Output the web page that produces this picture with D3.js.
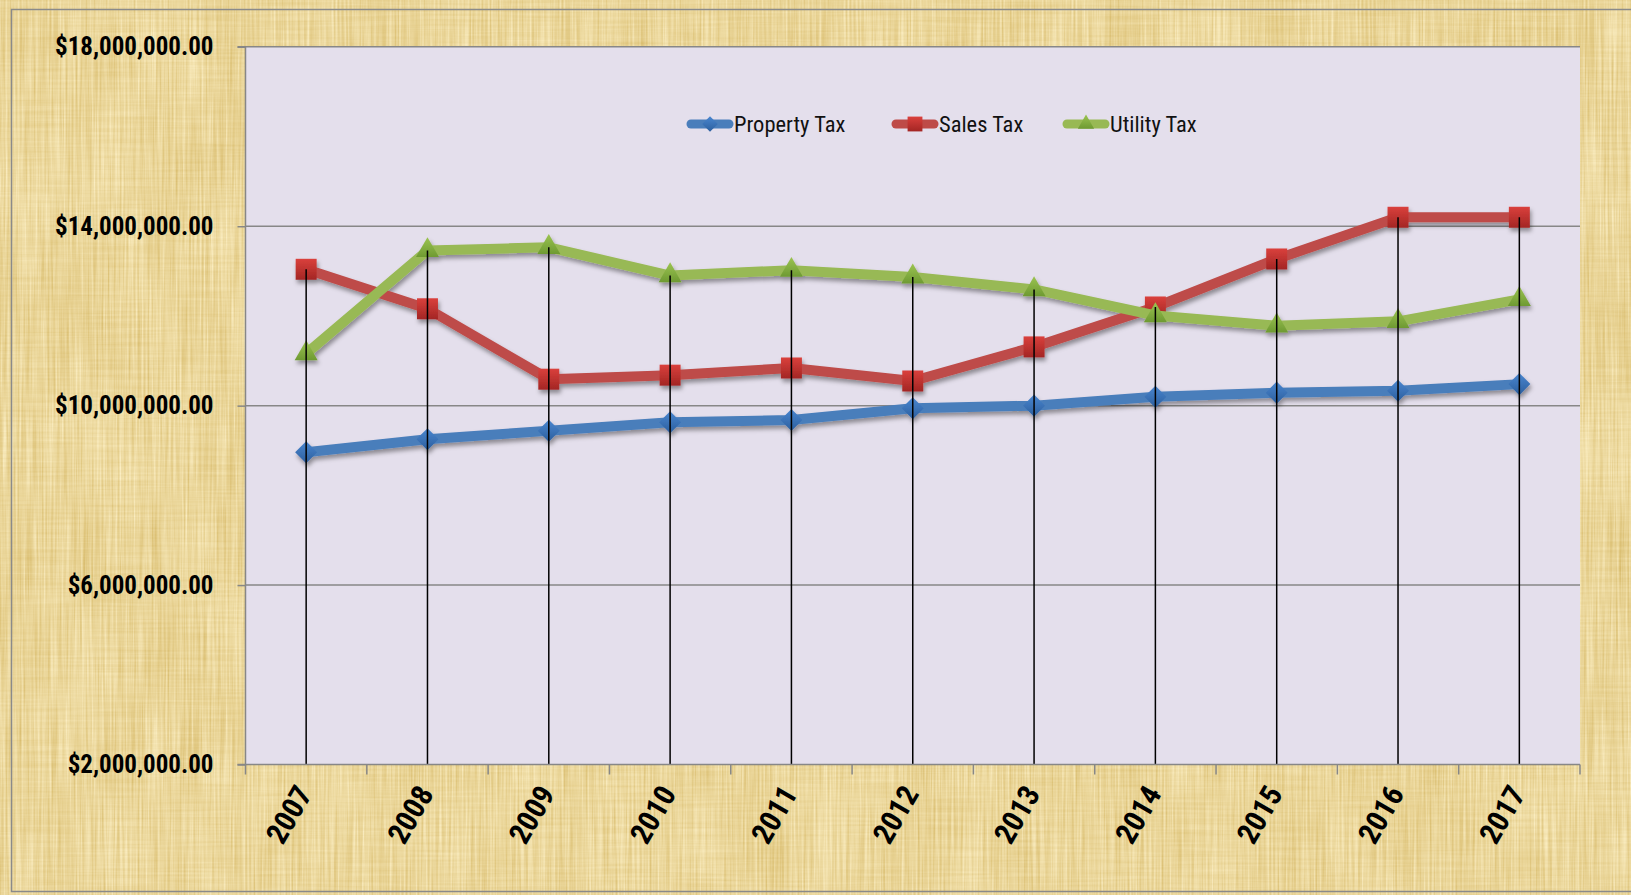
<!DOCTYPE html>
<html>
<head>
<meta charset="utf-8">
<script src="https://cdn.jsdelivr.net/npm/d3@7"></script>
<style>
  html, body { margin: 0; padding: 0; background: #ffffff; }
  svg { display: block; }
</style>
</head>
<body>
<svg id="chart" width="1631" height="895"></svg>
<script>
// ---- data ----
const years = ["2007","2008","2009","2010","2011","2012","2013","2014","2015","2016","2017"];
const propertyTax = [8960000, 9250000, 9440000, 9630000, 9680000, 9940000, 10000000, 10200000, 10290000, 10330000, 10480000];
const salesTax    = [13040000, 12160000, 10590000, 10680000, 10840000, 10550000, 11310000, 12200000, 13270000, 14200000, 14200000];
const utilityTax  = [11160000, 13460000, 13530000, 12900000, 13020000, 12870000, 12590000, 12010000, 11780000, 11880000, 12370000];
const seriesNames = ["Property Tax", "Sales Tax", "Utility Tax"];
const yTickValues = [2000000, 6000000, 10000000, 14000000, 18000000];

// ---- layout ----
const W = 1631, H = 895;
const chartBox = { x: 11.5, y: 9.5, w: 1640, h: 882 };
const plot = { left: 245.5, right: 1580, top: 46.8, bottom: 764.5 };
const FONT = "'Liberation Sans Narrow', 'Arial Narrow', 'Roboto Condensed', 'Liberation Sans', sans-serif";

const svg = d3.select("#chart");
const defs = svg.append("defs");

// parchment texture
const pf = defs.append("filter").attr("id", "parch")
  .attr("filterUnits", "userSpaceOnUse")
  .attr("x", 0).attr("y", 0).attr("width", W).attr("height", H)
  .attr("color-interpolation-filters", "sRGB");
const grey = "1 0 0 0 0  1 0 0 0 0  1 0 0 0 0  0 0 0 0 1";
pf.append("feTurbulence").attr("type", "fractalNoise").attr("baseFrequency", "0.5 0.01").attr("numOctaves", 3).attr("seed", 4).attr("result", "t1");
pf.append("feColorMatrix").attr("in", "t1").attr("type", "matrix").attr("values", grey).attr("result", "n1");
pf.append("feTurbulence").attr("type", "fractalNoise").attr("baseFrequency", "0.012 0.4").attr("numOctaves", 2).attr("seed", 9).attr("result", "t2");
pf.append("feColorMatrix").attr("in", "t2").attr("type", "matrix").attr("values", grey).attr("result", "n2");
pf.append("feTurbulence").attr("type", "fractalNoise").attr("baseFrequency", "0.02 0.008").attr("numOctaves", 2).attr("seed", 2).attr("result", "t3");
pf.append("feColorMatrix").attr("in", "t3").attr("type", "matrix").attr("values", grey).attr("result", "n3");
pf.append("feComposite").attr("in", "n1").attr("in2", "n2").attr("operator", "arithmetic")
  .attr("k1", 0).attr("k2", 0.75).attr("k3", 0.25).attr("k4", 0).attr("result", "n12");
pf.append("feComposite").attr("in", "n12").attr("in2", "n3").attr("operator", "arithmetic")
  .attr("k1", 0).attr("k2", 0.8).attr("k3", 0.2).attr("k4", 0).attr("result", "n");
pf.append("feColorMatrix").attr("in", "n").attr("type", "matrix")
  .attr("values", "0.22 0 0 0 0.81  0.32 0 0 0 0.68  0.55 0 0 0 0.33  0 0 0 0 1");

// drop shadow for series
const sf = defs.append("filter").attr("id", "shadow")
  .attr("filterUnits", "userSpaceOnUse")
  .attr("x", 0).attr("y", 0).attr("width", W).attr("height", H);
sf.append("feDropShadow").attr("dx", 1.5).attr("dy", 3.5).attr("stdDeviation", 2.2)
  .attr("flood-color", "#000").attr("flood-opacity", 0.38);

// marker gradients
function grad(id, c1, c2) {
  const g = defs.append("linearGradient").attr("id", id).attr("x1", 0).attr("y1", 0).attr("x2", 0).attr("y2", 1);
  g.append("stop").attr("offset", "0%").attr("stop-color", c1);
  g.append("stop").attr("offset", "100%").attr("stop-color", c2);
}
grad("gBlue", "#4a86d0", "#2c5f9e");
grad("gRed", "#da403c", "#a32624");
grad("gGreen", "#9cc452", "#6e9a32");

// ---- worksheet background (Excel grid) ----
const sheet = svg.append("g");
sheet.append("rect").attr("width", W).attr("height", H).attr("fill", "#ffffff");
d3.range(0, 11).forEach(k => {
  const xx = 68 + 152.4 * k;
  sheet.append("line").attr("x1", xx).attr("x2", xx).attr("y1", 0).attr("y2", H).attr("stroke", "#d9d9d9");
});
d3.range(0, 20).forEach(k => {
  const yy = 18 + 46.06 * k;
  sheet.append("line").attr("x1", 0).attr("x2", W).attr("y1", yy).attr("y2", yy).attr("stroke", "#d9d9d9");
});

// ---- chart area ----
svg.append("rect").attr("x", chartBox.x).attr("y", chartBox.y).attr("width", chartBox.w).attr("height", chartBox.h)
  .attr("fill", "#ead69e");
svg.append("rect").attr("x", chartBox.x).attr("y", chartBox.y).attr("width", chartBox.w).attr("height", chartBox.h)
  .attr("fill", "#ead69e").attr("filter", "url(#parch)");
svg.append("rect").attr("x", chartBox.x).attr("y", chartBox.y).attr("width", chartBox.w).attr("height", chartBox.h)
  .attr("fill", "none").attr("stroke", "#8a8a8a").attr("stroke-width", 1.5);

// ---- scales ----
const x = d3.scaleBand().domain(years).range([plot.left, plot.right]);
const cx = d => x(d) + x.bandwidth() / 2;
const y = d3.scaleLinear().domain([2000000, 18000000]).range([plot.bottom, plot.top]);

// plot area
svg.append("rect").attr("x", plot.left).attr("y", plot.top)
  .attr("width", plot.right - plot.left).attr("height", plot.bottom - plot.top)
  .attr("fill", "#e4dfec");

// gridlines
svg.append("g").selectAll("line").data(yTickValues.filter(v => v > 2000000)).join("line")
  .attr("x1", plot.left).attr("x2", plot.right)
  .attr("y1", d => y(d)).attr("y2", d => y(d))
  .attr("stroke", "#878787").attr("stroke-width", 1.5);

// ---- series ----
const seriesData = [
  { name: seriesNames[0], values: propertyTax, color: "#4a7ebb", fill: "url(#gBlue)", symbol: d3.symbolDiamond2, size: 310 },
  { name: seriesNames[1], values: salesTax, color: "#be4b48", fill: "url(#gRed)", symbol: d3.symbolSquare, size: 440 },
  { name: seriesNames[2], values: utilityTax, color: "#98b954", fill: "url(#gGreen)", symbol: d3.symbolTriangle, size: 230 }
];

const line = d3.line().x((v, i) => cx(years[i])).y(v => y(v));
const sg = svg.append("g").attr("filter", "url(#shadow)");
seriesData.forEach(s => {
  const g = sg.append("g");
  g.append("path").attr("d", line(s.values)).attr("fill", "none")
    .attr("stroke", s.color).attr("stroke-width", 10).attr("stroke-linejoin", "round").attr("stroke-linecap", "round");
  g.selectAll("path.m").data(s.values).join("path").attr("class", "m")
    .attr("transform", (v, i) => `translate(${cx(years[i])},${y(v)})`)
    .attr("d", d3.symbol(s.symbol, s.size)())
    .attr("fill", s.fill);
});

// drop lines (from highest point to the axis)
svg.append("g").selectAll("line").data(years).join("line")
  .attr("x1", d => cx(d)).attr("x2", d => cx(d))
  .attr("y1", (d, i) => y(d3.max(seriesData, s => s.values[i])))
  .attr("y2", plot.bottom)
  .attr("stroke", "#000").attr("stroke-width", 1.5);

// ---- axes ----
const yAxisG = svg.append("g").attr("transform", `translate(${plot.left},0)`)
  .call(d3.axisLeft(y).tickValues(yTickValues).tickSize(8).tickPadding(24)
    .tickFormat(d => "$" + d3.format(",.2f")(d)));
yAxisG.select(".domain").attr("stroke", "#878787").attr("stroke-width", 1.5).attr("d", `M-8,${plot.top}H0V${plot.bottom}H-8`);
yAxisG.selectAll(".tick line").attr("stroke", "#878787").attr("stroke-width", 1.5);
yAxisG.selectAll(".tick text").attr("font-family", FONT).attr("font-weight", "bold")
  .attr("font-size", 25).attr("fill", "#000");

const xAxisG = svg.append("g").attr("transform", `translate(0,${plot.bottom})`)
  .call(d3.axisBottom(x).tickSize(0).tickPadding(0));
xAxisG.select(".domain").attr("stroke", "#878787").attr("stroke-width", 1.5)
  .attr("d", `M${plot.left},0H${plot.right}`);
xAxisG.selectAll(".tick text")
  .attr("font-family", FONT).attr("font-weight", "bold").attr("font-size", 30).attr("fill", "#000")
  .attr("x", 0).attr("y", 0).attr("dy", null)
  .attr("text-anchor", "end")
  .attr("transform", "translate(7,29) rotate(-60)");
// boundary tick marks
xAxisG.append("g").selectAll("line").data(years.map(d => x(d)).concat([x.range()[1]])).join("line")
  .attr("x1", d => d).attr("x2", d => d).attr("y1", 0).attr("y2", 10)
  .attr("stroke", "#878787").attr("stroke-width", 1.5);

// ---- legend ----
const legendX = [687, 892, 1063];
const lg = svg.append("g");
seriesData.forEach((s, i) => {
  const g = lg.append("g").attr("transform", `translate(${legendX[i]},124)`);
  g.append("line").attr("x1", 4).attr("x2", 42).attr("y1", 0).attr("y2", 0)
    .attr("stroke", s.color).attr("stroke-width", 9).attr("stroke-linecap", "round");
  g.append("path").attr("transform", "translate(23,0)")
    .attr("d", d3.symbol(s.symbol, s.size * 0.5)()).attr("fill", s.fill);
  g.append("text").attr("x", 47).attr("y", 0).attr("dy", "0.35em")
    .attr("font-family", FONT).attr("font-size", 22.5).attr("fill", "#111")
    .text(s.name);
});
</script>
</body>
</html>
